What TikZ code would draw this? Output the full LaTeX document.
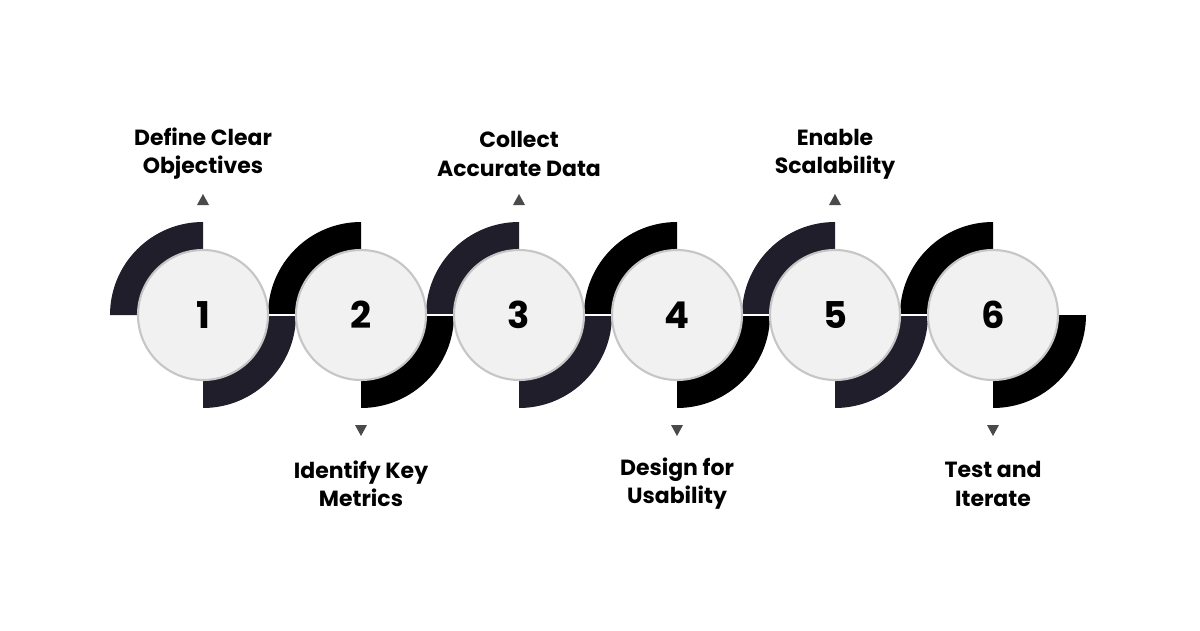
\documentclass[tikz,border=0pt]{standalone}
\usepackage{fontspec}
\setmainfont{Poppins}
\usetikzlibrary{positioning,calc}
\definecolor{navy}{HTML}{201E2A}
\definecolor{disc}{HTML}{F1F1F1}
\definecolor{tri}{HTML}{4A4A4A}
\tikzset{
  stepdisc/.style={circle, fill=disc, draw=gray!45, line width=1.2pt, minimum size=2.6cm, inner sep=0pt, font=\bfseries\fontsize{21}{21}\selectfont},
  steplabel/.style={align=center, font=\bfseries\fontsize{12.5}{16}\selectfont},
}
\begin{document}
\begin{tikzpicture}[x=0.02cm,y=0.02cm]
    \useasboundingbox[fill=white] (0,0) rectangle (1200,630);
    % Anillos de cuarto de circulo
    \foreach \i/\col in {1/navy,2/black,3/navy,4/black,5/navy,6/black} {
        \pgfmathsetmacro{\cx}{203+158*(\i-1)}
        \fill[\col] (\cx-93,315) arc[start angle=180,end angle=90,radius=93] -- (\cx,380) arc[start angle=90,end angle=180,radius=65] -- cycle;
        \fill[\col] (\cx+93,315) arc[start angle=0,end angle=-90,radius=93] -- (\cx,250) arc[start angle=-90,end angle=0,radius=65] -- cycle;
    }
    % Discos numerados
    \foreach \i in {1,...,6} {
        \node[stepdisc] (c\i) at (203+158*\i-158,315) {\i};
    }
    % Lineas de union
    \foreach \i [evaluate=\i as \j using int(\i+1)] in {1,...,5} {
        \draw[white, line width=1.5pt] (c\i.east) -- (c\j.west);
    }
    % Triangulos y etiquetas
    \foreach \i/\txt in {1/{Define Clear\\Objectives},3/{Collect\\Accurate Data},5/{Enable\\Scalability}} {
        \coordinate (t\i) at (203+158*\i-158,430);
        \fill[tri] ($(t\i)+(-6,-5)$) -- ($(t\i)+(6,-5)$) -- ($(t\i)+(0,6)$) -- cycle;
        \node[steplabel] (l\i) at (203+158*\i-158,476) {\txt};
    }
    \foreach \i/\txt in {2/{Identify Key\\Metrics},4/{Design for\\Usability},6/{Test and\\Iterate}} {
        \coordinate (t\i) at (203+158*\i-158,200);
        \fill[tri] ($(t\i)+(-6,5)$) -- ($(t\i)+(6,5)$) -- ($(t\i)+(0,-6)$) -- cycle;
        \node[steplabel] (l\i) at (203+158*\i-158,146) {\txt};
    }
\end{tikzpicture}
\end{document}
